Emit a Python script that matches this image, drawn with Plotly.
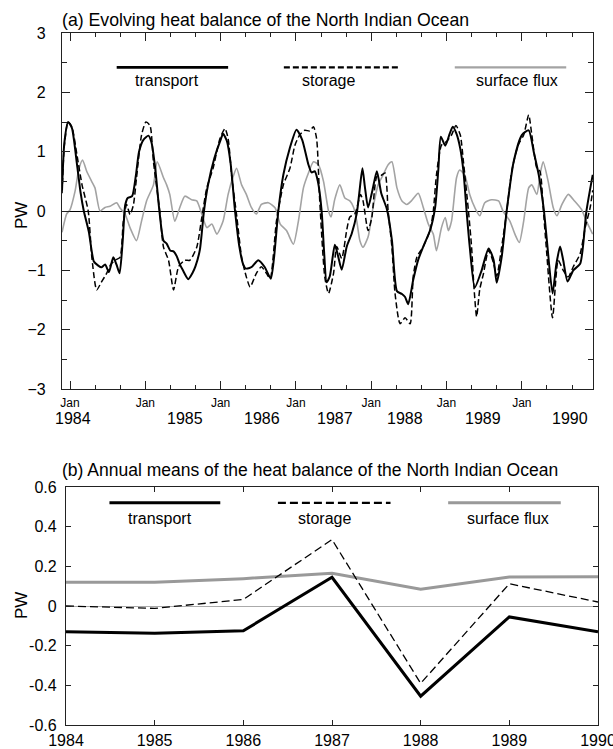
import numpy as np
import plotly.graph_objects as go

W, H = 613, 749

# ---------------- Data: panel (a), months since Jan 1984 ----------------
transport_month = [-1.27, -0.9, -0.3, 0.3, 1.1, 1.7, 2.2, 3.0, 3.8, 4.5, 5.0, 5.6, 6.2, 6.9, 7.4, 7.9, 8.4, 8.8, 9.2, 9.9,
                   10.5, 11.0, 11.7, 12.5, 13.0, 13.6, 14.2, 14.9, 15.4, 16.0, 16.5, 17.0, 17.5, 18.0, 18.85, 19.5, 20.0,
                   20.7, 21.35, 22.0, 23.0, 24.0, 24.4, 25.0, 25.6, 26.3, 27.0, 27.6, 28.0, 28.6, 29.0, 30.0, 31.0, 32.0,
                   32.5, 33.2, 34.0, 35.0, 36.1, 37.0, 38.0, 38.5, 39.0, 39.5, 40.1, 40.5, 40.9, 41.4, 42.2, 42.7, 43.3,
                   44.1, 44.9, 45.7, 46.1, 46.6, 47.0, 47.5, 48.2, 48.9, 49.6, 50.5, 51.3, 52.1, 52.9, 53.4, 53.9, 54.7,
                   55.5, 56.3, 57.4, 58.2, 58.7, 59.1, 59.8, 60.5, 61.0, 61.6, 62.2, 62.7, 63.2, 63.7, 64.5, 65.6, 66.7,
                   67.5, 68.0, 68.8, 69.6, 70.7, 72.0, 73.1, 73.9, 74.7, 75.5, 76.0, 76.9, 77.5, 78.1, 78.6, 79.3, 80.2,
                   81.3, 82.3, 83.3]
transport_pw = [0.35, 1.15, 1.5, 1.4, 0.8, 0.3, 0.0, -0.35, -0.85, -0.92, -0.95, -0.9, -1.03, -0.78, -0.9, -1.05, -0.5, 0.1,
                0.22, 0.25, 0.6, 1.0, 1.2, 1.27, 1.15, 0.7, 0.05, -0.5, -0.55, -0.67, -0.68, -0.76, -0.9, -1.0, -1.15,
                -1.05, -0.93, -0.65, 0.0, 0.44, 0.89, 1.2, 1.3, 1.18, 0.8, 0.0, -0.61, -0.9, -0.97, -0.96, -0.94, -0.83,
                -0.94, -1.14, -0.8, 0.0, 0.61, 1.05, 1.37, 1.2, 0.78, 0.65, 0.67, 0.5, 0.0, -0.7, -1.2, -1.1, -0.57,
                -0.75, -0.99, -0.6, -0.38, -0.04, 0.3, 0.72, 0.4, 0.06, 0.35, 0.67, 0.3, 0.03, -0.49, -1.35, -1.4,
                -1.45, -1.57, -1.16, -0.82, -0.6, -0.32, 0.07, 0.7, 1.25, 1.1, 1.3, 1.42, 1.3, 1.05, 0.67, 0.0, -0.6,
                -1.29, -1.0, -0.63, -0.82, -1.21, -0.77, 0.01, 0.83, 1.28, 1.36, 1.0, 0.61, 0.03, -0.5, -1.39, -0.9,
                -0.6, -0.83, -1.19, -1.0, -0.89, 0.0, 0.61]

storage_month = [-1.27, -0.9, -0.3, 0.3, 1.1, 1.9, 2.9, 3.5, 4.25, 5.0, 5.84, 6.5, 7.17, 7.97, 8.5, 9.03, 9.56, 10.1, 10.6,
                 11.4, 12.1, 12.75, 13.3, 14.3, 14.9, 15.7, 16.5, 17.3, 18.3, 19.1, 20.2, 21.0, 21.8, 22.8, 23.9, 24.7,
                 25.2, 25.8, 26.6, 27.35, 28.1, 28.7, 29.7, 30.5, 31.3, 31.9, 32.9, 34.0, 35.05, 35.85, 36.6, 37.4,
                 38.2, 38.8, 39.3, 39.8, 40.6, 41.2, 42.0, 42.5, 43.3, 44.1, 44.6, 45.4, 46.3, 46.7, 47.5, 48.1, 48.9,
                 49.6, 50.2, 50.7, 51.3, 51.8, 52.6, 53.4, 54.2, 54.7, 55.3, 56.3, 57.4, 57.9, 58.4, 59.2, 60.0, 60.8,
                 61.5, 62.2, 62.7, 63.5, 64.0, 64.4, 64.8, 65.3, 65.9, 66.7, 67.5, 68.0, 68.8, 69.6, 70.4, 71.4, 72.3,
                 73.1, 73.6, 74.4, 74.9, 75.4, 75.9, 76.9, 77.8, 78.6, 79.4, 80.2, 81.3, 82.1, 82.9, 83.3]
storage_pw = [0.3, 1.1, 1.5, 1.42, 0.95, 0.45, 0.0, -0.8, -1.33, -1.2, -1.05, -0.9, -0.83, -0.78, -0.17, 0.11, -0.06, 0.1,
              0.56, 1.28, 1.5, 1.44, 0.83, 0.0, -0.61, -0.83, -1.33, -0.94, -0.83, -0.83, -0.61, -0.11, 0.39, 0.72,
              1.22, 1.39, 1.22, 0.56, -0.11, -0.78, -1.11, -1.28, -1.05, -0.94, -1.05, -1.14, -0.17, 0.44, 0.72, 1.11,
              1.28, 1.36, 1.35, 1.42, 1.22, 0.17, -1.11, -1.39, -1.05, -0.6, -0.8, -0.32, -0.1, -0.05, 0.28, 0.17,
              -0.33, -0.11, 0.58, 0.6, 0.64, 0.0, -0.61, -1.39, -1.9, -1.8, -1.9, -1.1, -0.77, -0.6, -0.32, 0.0, 0.61,
              1.11, 1.17, 1.28, 1.44, 1.28, 0.83, 0.0, -0.61, -1.32, -1.78, -1.32, -1.05, -0.66, -0.88, -1.1, -0.6,
              0.0, 0.67, 1.11, 1.28, 1.62, 1.28, 0.72, 0.67, 0.06, -0.61, -1.8, -0.83, -1.0, -1.11, -0.94, -0.72,
              -0.28, 0.06, 0.35]

flux_month = [-1.27, -0.53, 0.0, 0.8, 1.4, 2.0, 2.66, 3.45, 3.98, 4.78, 5.58, 6.37, 7.43, 7.97, 8.76, 9.56, 10.6, 11.4,
              12.2, 13.3, 13.9, 14.9, 15.4, 15.9, 16.7, 17.5, 18.3, 19.4, 20.2, 21.0, 21.8, 22.6, 23.4, 24.4, 25.2,
              26.0, 26.55, 27.35, 28.1, 28.9, 29.7, 30.5, 31.6, 32.7, 33.5, 34.5, 35.6, 36.4, 37.2, 38.0, 38.8, 39.6,
              40.4, 41.2, 41.6, 42.2, 43.0, 43.8, 44.6, 45.2, 45.7, 46.2, 46.7, 47.5, 48.3, 49.1, 49.9, 50.7, 51.3,
              52.1, 52.9, 53.7, 54.4, 55.5, 56.3, 57.1, 57.9, 58.4, 59.2, 59.8, 60.3, 60.8, 61.6, 62.1, 62.9, 63.7,
              64.5, 65.3, 66.1, 67.2, 68.3, 69.0, 70.1, 70.9, 71.6, 72.3, 73.1, 73.6, 74.4, 74.9, 75.4, 76.2, 77.0,
              77.6, 78.4, 79.4, 80.4, 81.5, 82.3, 83.3]
flux_pw = [-0.36, -0.05, 0.02, 0.33, 0.7, 0.86, 0.67, 0.5, 0.39, 0.0, 0.06, 0.08, 0.14, 0.05, -0.05, -0.28, -0.5, -0.17,
           0.17, 0.44, 0.83, 0.56, 0.44, 0.28, -0.17, 0.06, 0.25, 0.19, 0.17, -0.05, -0.28, -0.22, -0.39, -0.17, 0.28,
           0.58, 0.72, 0.44, 0.28, 0.06, -0.05, 0.11, 0.14, 0.05, -0.22, -0.33, -0.56, -0.17, 0.39, 0.64, 0.83, 0.78,
           0.5, 0.0, -0.1, 0.2, 0.44, 0.22, 0.17, 0.06, -0.17, -0.5, -0.61, -0.44, 0.06, 0.44, 0.61, 0.78, 0.83, 0.39,
           0.17, 0.11, 0.17, 0.3, 0.06, -0.22, -0.39, -0.67, -0.28, -0.11, -0.33, -0.17, 0.56, 0.69, 0.61, 0.28, 0.06,
           -0.08, 0.14, 0.19, 0.17, 0.0, -0.17, -0.39, -0.53, -0.17, 0.39, 0.44, 0.28, 0.61, 0.83, 0.5, 0.06, -0.08,
           0.11, 0.28, 0.17, 0.03, -0.17, -0.39]

# ---------------- Data: panel (b), annual means ----------------
years = [1984, 1985, 1986, 1987, 1988, 1989, 1990]
annual_transport = [-0.13, -0.137, -0.125, 0.145, -0.455, -0.055, -0.13]
annual_storage = [0.0, -0.012, 0.033, 0.335, -0.39, 0.112, 0.02]
annual_flux = [0.12, 0.12, 0.138, 0.165, 0.084, 0.146, 0.147]

# tick labels
jan_ticks = [1984, 1985, 1986, 1987, 1988, 1989, 1990]
jan_labels = ["Jan"] * 7
year_labels = ["1984", "1985", "1986", "1987", "1988", "1989", "1990"]
year_label_pos = [1984.04, 1985.53, 1986.55, 1987.52, 1988.45, 1989.48, 1990.64]

FONT = "Liberation Sans, Arial, sans-serif"
GRAY = "#a3a3a3"


def px(x):
    return x / W


def py(y):
    return 1 - y / H


def to_year(m):
    return 1984 + np.asarray(m, dtype=float) / 12.0


fig = go.Figure()

spl = dict(shape="spline", smoothing=0.6)
fig.add_trace(go.Scatter(x=to_year(flux_month), y=flux_pw, mode="lines", xaxis="x", yaxis="y",
                         line=dict(color=GRAY, width=1.6, **spl), showlegend=False))
fig.add_trace(go.Scatter(x=to_year(storage_month), y=storage_pw, mode="lines", xaxis="x", yaxis="y",
                         line=dict(color="black", width=1.5, dash="6px,3px", **spl), showlegend=False))
fig.add_trace(go.Scatter(x=to_year(transport_month), y=transport_pw, mode="lines", xaxis="x", yaxis="y",
                         line=dict(color="black", width=2.0, **spl), showlegend=False))

fig.add_trace(go.Scatter(x=years, y=annual_flux, mode="lines", xaxis="x2", yaxis="y2",
                         line=dict(color="#999999", width=3), showlegend=False))
fig.add_trace(go.Scatter(x=years, y=annual_storage, mode="lines", xaxis="x2", yaxis="y2",
                         line=dict(color="black", width=1.3, dash="8px,4px"), showlegend=False))
fig.add_trace(go.Scatter(x=years, y=annual_transport, mode="lines", xaxis="x2", yaxis="y2",
                         line=dict(color="black", width=3), showlegend=False))

axis_common = dict(showline=True, linecolor="#222222", linewidth=1.3, mirror="ticks", ticks="inside",
                   tickcolor="#222222", showgrid=False, color="black", automargin=False,
                   ticklabeloverflow="allow")

top_x0 = 1984 + (62 - 70) / 75.3
top_x1 = 1984 + (593 - 70) / 75.3

fig.update_layout(
    template="none",
    width=W, height=H, margin=dict(l=0, r=0, t=0, b=0, autoexpand=False),
    paper_bgcolor="white", plot_bgcolor="white",
    font=dict(family=FONT, color="black"),
    xaxis=dict(domain=[px(62), px(593)], anchor="y", range=[top_x0, top_x1],
               tickmode="array", tickvals=jan_ticks, ticktext=jan_labels, ticklen=8, tickwidth=1.2,
               tickfont=dict(size=12), ticklabelstandoff=2,
               minor=dict(tickmode="linear", tick0=1984, dtick=1 / 3, ticklen=4, ticks="inside",
                          tickcolor="#222222", tickwidth=1.2, showgrid=False),
               zeroline=False, **axis_common),
    yaxis=dict(domain=[py(389), py(33)], anchor="x", range=[-3, 3], tickmode="linear", tick0=-3, dtick=1,
               ticklen=8, tickwidth=1.2, tickfont=dict(size=16), ticklabelstandoff=12,
               minor=dict(tickmode="linear", tick0=-3, dtick=0.5, ticklen=5, ticks="inside",
                          tickcolor="#222222", tickwidth=1.2, showgrid=False),
               zeroline=True, zerolinecolor="black", zerolinewidth=1.2, **axis_common),
    xaxis2=dict(domain=[px(66), px(598)], anchor="y2", range=[1984, 1990], tickmode="array",
                tickvals=years, ticktext=year_labels, ticklen=5, tickwidth=1.2, tickfont=dict(size=16),
                ticklabelstandoff=1, zeroline=False, **axis_common),
    yaxis2=dict(domain=[py(725), py(487)], anchor="x2", range=[-0.6, 0.6], tickmode="array",
                tickvals=[-0.6, -0.4, -0.2, 0, 0.2, 0.4, 0.6], ticktext=["-0.6", "-0.4", "-0.2", "0", "0.2", "0.4", "0.6"],
                ticklen=5, tickwidth=1.2, tickfont=dict(size=16), ticklabelstandoff=5,
                zeroline=True, zerolinecolor="#aaaaaa", zerolinewidth=1, **axis_common),
)

shapes = []
annotations = []

# Legend (a)
leg_a_y, leg_a_ty = 2.42, 2.2
for (x0, x1, col, dash, wd, label, tx) in [
    (1984.62, 1986.10, "black", "solid", 2.6, "transport", 1985.29),
    (1986.84, 1988.36, "black", "6px,3px", 2.2, "storage", 1987.43),
    (1989.11, 1990.59, GRAY, "solid", 2.4, "surface flux", 1989.94),
]:
    shapes.append(dict(type="line", xref="x", yref="y", x0=x0, x1=x1, y0=leg_a_y, y1=leg_a_y,
                       line=dict(color=col, width=wd, dash=dash)))
    annotations.append(dict(xref="x", yref="y", x=tx, y=leg_a_ty, text=label, showarrow=False,
                            font=dict(size=16, family=FONT), xanchor="center", yanchor="middle"))

# Legend (b)
leg_b_y, leg_b_ty = 0.52, 0.44
for (x0, x1, col, dash, wd, label, tx) in [
    (1984.49, 1985.74, "black", "solid", 3, "transport", 1985.06),
    (1986.39, 1987.66, "black", "8px,4px", 2.2, "storage", 1986.91),
    (1988.31, 1989.58, "#999999", "solid", 3, "surface flux", 1988.98),
]:
    shapes.append(dict(type="line", xref="x2", yref="y2", x0=x0, x1=x1, y0=leg_b_y, y1=leg_b_y,
                       line=dict(color=col, width=wd, dash=dash)))
    annotations.append(dict(xref="x2", yref="y2", x=tx, y=leg_b_ty, text=label, showarrow=False,
                            font=dict(size=16, family=FONT), xanchor="center", yanchor="middle"))

# Year labels under top panel
for pos, lab in zip(year_label_pos, year_labels):
    annotations.append(dict(xref="x", yref="paper", x=pos, y=py(418), text=lab, showarrow=False,
                            font=dict(size=16, family=FONT), xanchor="center", yanchor="middle"))

# Titles
annotations.append(dict(xref="paper", yref="paper", x=px(60), y=py(20),
                        text="(a) Evolving heat balance of the North Indian Ocean", showarrow=False,
                        font=dict(size=17.7, family=FONT), xanchor="left", yanchor="middle"))
annotations.append(dict(xref="paper", yref="paper", x=px(60), y=py(470),
                        text="(b) Annual means of the heat balance of the North Indian Ocean", showarrow=False,
                        font=dict(size=17.5, family=FONT), xanchor="left", yanchor="middle"))

# PW axis titles
annotations.append(dict(xref="paper", yref="paper", x=px(21), y=py(216), text="PW", showarrow=False,
                        textangle=-90, font=dict(size=17, family=FONT), xanchor="center", yanchor="middle"))
annotations.append(dict(xref="paper", yref="paper", x=px(21), y=py(606), text="PW", showarrow=False,
                        textangle=-90, font=dict(size=17, family=FONT), xanchor="center", yanchor="middle"))

fig.update_layout(shapes=shapes, annotations=annotations)

fig.write_html("out.html")
